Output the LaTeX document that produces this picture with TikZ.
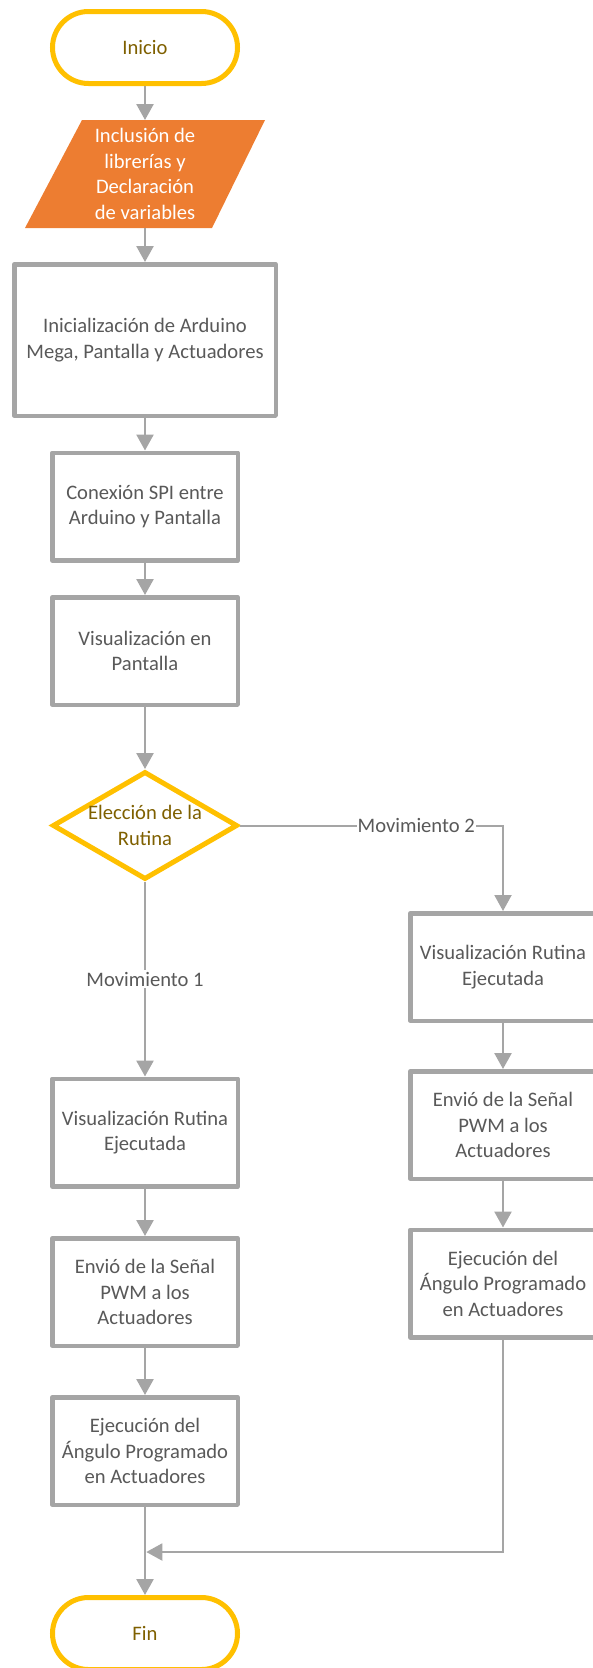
\documentclass[tikz,border=0pt]{standalone}
\usepackage{fontspec}
\setmainfont{Carlito}
\usetikzlibrary{shapes.geometric,arrows.meta}
\definecolor{linegray}{HTML}{A5A5A5}
\definecolor{txtgray}{HTML}{595959}
\definecolor{termyellow}{HTML}{FFC000}
\definecolor{termtext}{HTML}{7F6000}
\definecolor{ioorange}{HTML}{ED7D31}
\begin{document}
\begin{tikzpicture}[x=1pt,y=-1pt,
  font=\fontsize{20.6}{25.5}\selectfont,
  procbox/.style={draw=linegray, line width=4.5pt, line join=round, fill=white,
    text=txtgray, align=center, inner sep=0pt,
    minimum width=185.5pt, minimum height=107.5pt},
  terminal/.style={draw=termyellow, line width=5pt, rounded corners=36pt,
    text=termtext, fill=white, minimum width=185pt, minimum height=72pt},
  decision/.style={diamond, draw=termyellow, line width=5pt, line join=miter,
    fill=white, minimum width=185pt, minimum height=108pt, inner sep=0pt},
  flow/.style={draw=linegray, line width=2.6pt, -{Triangle[width=17pt,length=16pt]}},
  branch/.style={flow, line width=2pt},
  tag/.style={fill=white, text=txtgray, inner xsep=1pt, inner ysep=2pt}
]
\useasboundingbox (0,0) rectangle (592,1668);

% main column
\node[terminal] (start) at (145,47.5) {Inicio};

\fill[ioorange] (25,228) -- (212,228) -- (265,120) -- (82,120) -- cycle;
\node[text=white, align=center, inner sep=0pt, outer sep=0pt,
      minimum width=120pt, minimum height=108pt] (libs) at (145,174)
      {Inclusión de\\librerías y\\Declaración\\de variables};

\node[procbox, minimum width=261.5pt, minimum height=151.5pt] (init) at (145,340)
  {Inicialización de Arduino\\Mega, Pantalla y Actuadores};
\node[procbox] (spi) at (145,506.5) {Conexión SPI entre\\Arduino y Pantalla};
\node[procbox] (show) at (145,651) {Visualización en\\Pantalla};

\node[decision] (choice) at (145,825.5) {};
\node[text=termtext, align=center] (choicetxt) at (choice.center) {Elección de la\\Rutina};

% branch 1
\node[procbox] (runA) at (145,1132.5) {Visualización Rutina\\Ejecutada};
\node[procbox] (pwmA) at (145,1292) {Envió de la Señal\\PWM a los\\Actuadores};
\node[procbox] (angA) at (145,1451) {Ejecución del\\Ángulo Programado\\en Actuadores};
\node[terminal] (stop) at (145,1633.5) {Fin};

% branch 2
\node[procbox] (runB) at (503,967) {Visualización Rutina\\Ejecutada};
\node[procbox] (pwmB) at (503,1125) {Envió de la Señal\\PWM a los\\Actuadores};
\node[procbox] (angB) at (503,1283.5) {Ejecución del\\Ángulo Programado\\en Actuadores};

\coordinate (merge) at (146.3,1552);

% connectors
\draw[flow] (start.south) -- (libs.north);
\draw[flow] (libs.south) -- (init.north);
\draw[flow] (init.south) -- (spi.north);
\draw[flow] (spi.south) -- (show.north);
\draw[flow] (show.south) -- (choice.north);
\draw[flow] (choice.south) -- node[tag] {Movimiento 1} (runA.north);
\draw[flow] (runA.south) -- (pwmA.north);
\draw[flow] (pwmA.south) -- (angA.north);
\draw[flow] (angA.south) -- (stop.north);

\draw[branch] (choice.east) -| node[tag, pos=0.335] {Movimiento 2} (runB.north);
\draw[flow] (runB.south) -- (pwmB.north);
\draw[flow] (pwmB.south) -- (angB.north);
\draw[branch] (angB.south) |- (merge);
\end{tikzpicture}
\end{document}
